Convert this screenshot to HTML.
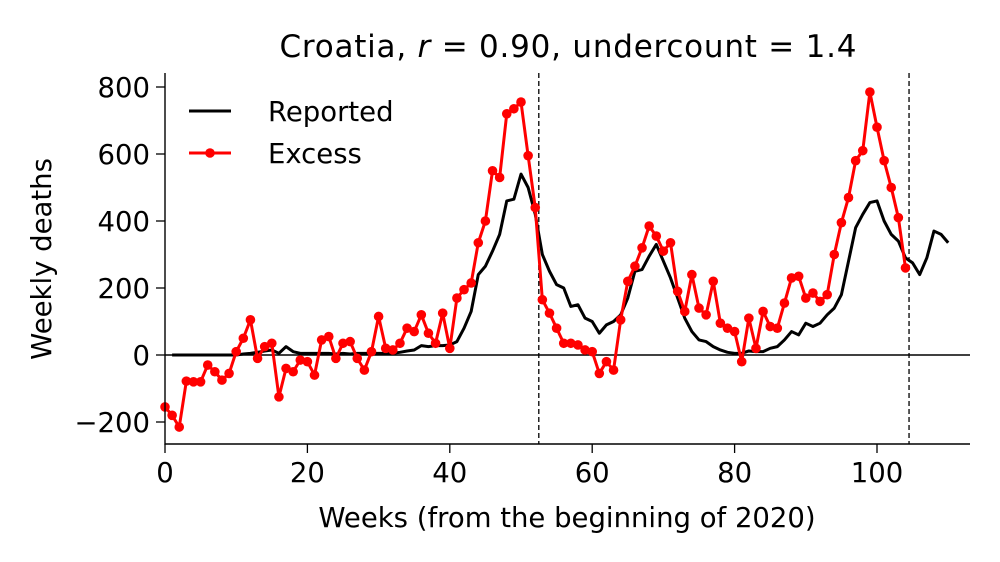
<!DOCTYPE html>
<html><head><meta charset="utf-8"><style>
body{margin:0;background:#fff}
svg text{font-family:"DejaVu Sans","Liberation Sans",sans-serif;fill:#000}
</style></head><body>
<svg id="c" width="1000" height="562" xmlns="http://www.w3.org/2000/svg" style="position:absolute;left:0;top:0"></svg>
<script>
const excess=[-155,-180,-215,-78,-80,-80,-30,-50,-75,-55,10,50,105,-10,25,35,-125,-40,-50,-15,-20,-60,45,55,-10,35,40,-10,-45,10,115,20,15,35,80,70,120,65,35,125,20,170,195,215,335,400,550,530,720,735,755,595,440,165,125,80,35,35,30,15,10,-55,-20,-45,105,220,265,320,385,355,310,335,190,130,240,140,120,220,95,80,70,-20,110,20,130,85,80,155,230,235,170,185,160,180,300,395,470,580,610,785,680,580,500,410,260];
const reported=[0,0,0,0,0,0,0,0,0,0,3,5,8,12,15,5,25,10,5,5,5,5,5,3,5,3,5,5,5,5,5,5,8,12,15,28,25,28,28,30,40,80,130,240,265,310,360,460,465,540,500,420,300,250,210,200,145,150,110,100,65,90,100,120,170,250,255,295,330,280,230,170,110,70,45,40,25,15,8,5,5,12,10,10,20,25,45,70,60,95,85,95,120,140,180,280,380,420,455,460,400,360,340,290,275,240,290,370,360,335];
const reportedStart=1;
const xTicks=[0,20,40,60,80,100];
const yTicks=[-200,0,200,400,600,800];
const vlines=[52.5,104.5];
const X=w=>165+w*7.12, Y=v=>355-v*0.335;
const svg=document.getElementById('c');const NS='http://www.w3.org/2000/svg';
function mk(t,a,p){const e=document.createElementNS(NS,t);for(const k in a)e.setAttribute(k,a[k]);(p||svg).appendChild(e);return e;}
let z=mk('line',{x1:165,x2:970,y1:Y(0),y2:Y(0),stroke:'#000','stroke-width':1.4});


vlines.forEach(w=>{const l=mk('line',{x1:X(w),x2:X(w),y1:73,y2:444,stroke:'#000','stroke-width':1.3,'stroke-dasharray':'5,3'});

});
let rp=mk('polyline',{points:reported.map((v,i)=>X(i+reportedStart)+','+Y(v)).join(' '),fill:'none',stroke:'#000','stroke-width':3,'stroke-linejoin':'round'});


let ep=mk('polyline',{points:excess.map((v,i)=>X(i)+','+Y(v)).join(' '),fill:'none',stroke:'#f00','stroke-width':3,'stroke-linejoin':'round'});


excess.forEach((v,i)=>{const c=mk('circle',{cx:X(i),cy:Y(v),r:4.8,fill:'#f00'});

});
let ax=mk('path',{d:'M165,73V444H970',fill:'none',stroke:'#000','stroke-width':1.4});


xTicks.forEach(t=>{mk('line',{x1:X(t),x2:X(t),y1:444,y2:453,stroke:'#000','stroke-width':1.3});
const tx=mk('text',{x:X(t),y:482,'text-anchor':'middle','font-size':27.5});tx.textContent=t;

});
yTicks.forEach(t=>{mk('line',{x1:156,x2:165,y1:Y(t),y2:Y(t),stroke:'#000','stroke-width':1.3});
const tx=mk('text',{x:150,y:Y(t)+10,'text-anchor':'end','font-size':27.5});tx.textContent=t<0?'\u2212'+(-t):t;

});
</script>
<svg width="1000" height="562" style="position:absolute;left:0;top:0">
<text x="568" y="57" text-anchor="middle" font-size="31" textLength="577" lengthAdjust="spacing">Croatia, <tspan font-style="italic">r</tspan> = 0.90, undercount = 1.4</text>
<text x="567" y="527" text-anchor="middle" font-size="27.5">Weeks (from the beginning of 2020)</text>
<text transform="translate(51,259) rotate(-90)" text-anchor="middle" font-size="27.5">Weekly deaths</text>
<g>
<line x1="189" x2="231" y1="111" y2="111" stroke="#000" stroke-width="3"/>
<text x="268" y="121" font-size="27.5">Reported</text>
<line x1="189" x2="231" y1="153" y2="153" stroke="#f00" stroke-width="3"/>
<circle cx="210" cy="153" r="4.8" fill="#f00"/>
<text x="268" y="163" font-size="27.5">Excess</text>
</g>
</svg>
</body></html>
